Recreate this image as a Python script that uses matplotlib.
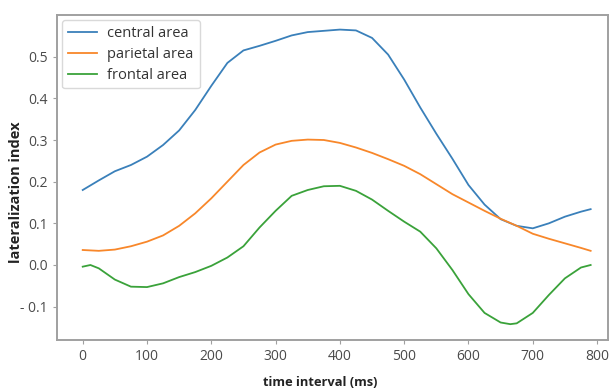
import matplotlib
matplotlib.use("Agg")
import matplotlib.pyplot as plt

x_central = [0, 25, 50, 75, 100, 125, 150, 175, 200, 225, 250, 275, 300, 325, 350, 375, 400,
             425, 450, 475, 500, 525, 550, 575, 600, 625, 650, 675, 700, 725, 750, 775, 790]
central = [0.180, 0.203, 0.225, 0.240, 0.260, 0.288, 0.323, 0.372, 0.430, 0.485, 0.515, 0.526,
           0.538, 0.551, 0.559, 0.562, 0.565, 0.563, 0.545, 0.505, 0.445, 0.378, 0.315, 0.255,
           0.192, 0.145, 0.110, 0.094, 0.088, 0.100, 0.116, 0.128, 0.134]

x_parietal = x_central
parietal = [0.036, 0.034, 0.037, 0.045, 0.056, 0.071, 0.094, 0.124, 0.160, 0.200, 0.240, 0.270,
            0.289, 0.298, 0.301, 0.300, 0.293, 0.282, 0.269, 0.254, 0.238, 0.218, 0.194, 0.170,
            0.150, 0.130, 0.111, 0.094, 0.075, 0.063, 0.052, 0.041, 0.034]

x_frontal = [0, 12, 25, 50, 75, 100, 125, 150, 175, 200, 225, 250, 275, 300, 325, 350, 375, 400,
             425, 450, 475, 500, 525, 550, 575, 600, 625, 650, 665, 675, 700, 725, 750, 775, 790]
frontal = [-0.004, 0.000, -0.008, -0.035, -0.052, -0.053, -0.044, -0.029, -0.017, -0.002, 0.018,
           0.045, 0.090, 0.130, 0.166, 0.180, 0.189, 0.190, 0.178, 0.157, 0.130, 0.104, 0.080,
           0.040, -0.012, -0.070, -0.115, -0.138, -0.142, -0.140, -0.115, -0.072, -0.032,
           -0.006, 0.000]

labels = ["central area", "parietal area", "frontal area"]
xticks = [0, 100, 200, 300, 400, 500, 600, 700, 800]
yticks = [-0.1, 0.0, 0.1, 0.2, 0.3, 0.4, 0.5]
ytick_labels = ["- 0.1", "0.0", "0.1", "0.2", "0.3", "0.4", "0.5"]

plt.rcParams['font.family'] = ['Open Sans', 'DejaVu Sans']

fig = plt.figure(figsize=(6.12, 3.90), dpi=100)
ax = fig.add_axes([57 / 612, 50 / 390, (608 - 57) / 612, (340 - 15) / 390])

ax.plot(x_central, central, color="#3a80ba", lw=1.3, label=labels[0])
ax.plot(x_parietal, parietal, color="#f8872a", lw=1.3, label=labels[1])
ax.plot(x_frontal, frontal, color="#3aa23a", lw=1.3, label=labels[2])

ax.set_xlim(-40, 817)
ax.set_ylim(-0.18, 0.60)
ax.set_xticks(xticks)
ax.set_xticklabels([str(t) for t in xticks])
ax.set_yticks(yticks)
ax.set_yticklabels(ytick_labels)

for s in ax.spines.values():
    s.set_color("#a0a0a0")
    s.set_linewidth(1.4)

ax.tick_params(axis="both", colors="#a0a0a0", labelcolor="#4a4a4a", labelsize=10,
               length=3, width=0.8)

ax.set_xlabel("time interval (ms)", fontsize=9.3, fontweight="bold", color="#222222")
ax.set_ylabel("lateralization index", fontsize=10.5, fontweight="bold", color="#222222")
ax.xaxis.set_label_coords(0.477, -0.112)
ax.yaxis.set_label_coords(-0.062, 0.455)

leg = ax.legend(loc="upper left", fontsize=10.5, frameon=True, handlelength=2.0,
                handletextpad=0.7, borderaxespad=0.35, labelspacing=0.4)
leg.get_frame().set_edgecolor("#d0d0d0")
for t in leg.get_texts():
    t.set_color("#333333")

fig.savefig("out.png", dpi=100)
